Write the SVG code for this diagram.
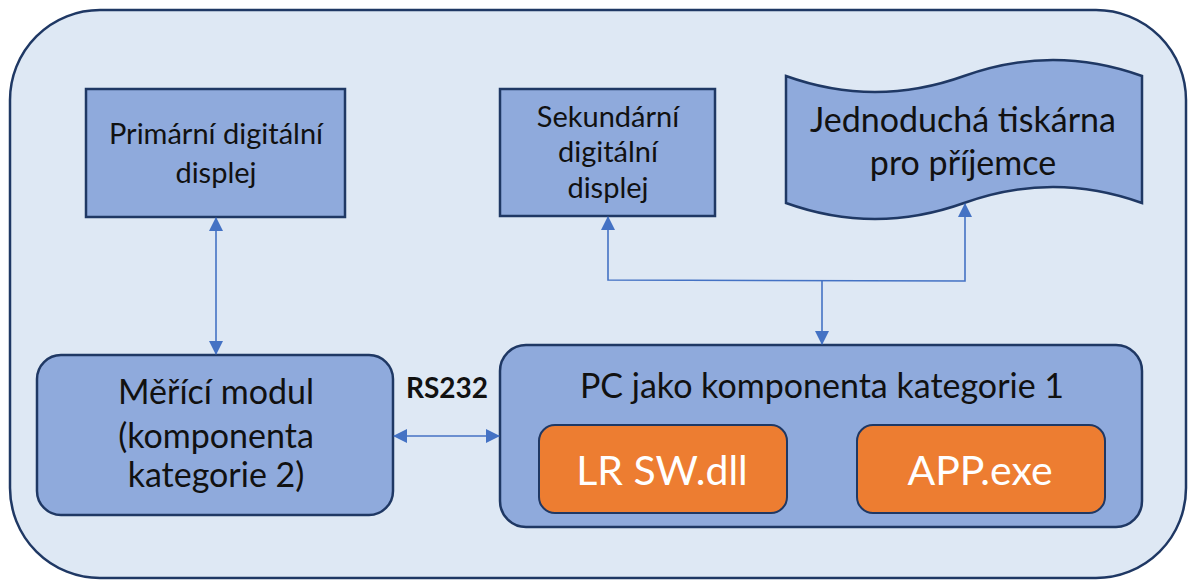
<svg xmlns="http://www.w3.org/2000/svg" width="1188" height="580" viewBox="0 0 1188 580">
<defs>
<style>
.node{fill:#8FAADC;stroke:#1F3864;stroke-width:2.5}
.sw{fill:#ED7D31;stroke:#1F3864;stroke-width:2}
.t{font-family:Lato,"Open Sans","Liberation Sans",sans-serif;fill:#111;text-anchor:middle}
.w{font-family:Lato,"Open Sans","Liberation Sans",sans-serif;fill:#fff;text-anchor:middle}
.c{fill:none;stroke:#4472C4;stroke-width:1.6}
</style>
<marker id="ah" viewBox="0 0 14 14" refX="13" refY="7" markerWidth="14" markerHeight="14" markerUnits="userSpaceOnUse" orient="auto-start-reverse">
<path d="M0,0 L14,7 L0,14 Z" fill="#4472C4"/>
</marker>
</defs>
<g id="container">
<rect x="10" y="10" width="1176" height="568" rx="90" ry="90" fill="#DEE8F4" stroke="#1F3864" stroke-width="2.5"/>
</g>
<g id="primary-display">
<rect class="node" x="86" y="89" width="259" height="128"/>
<text class="t" x="216" y="144" font-size="29">Primární digitální</text>
<text class="t" x="216" y="183" font-size="29">displej</text>
</g>
<g id="secondary-display">
<rect class="node" x="500" y="89" width="215" height="127"/>
<text class="t" x="608" y="127" font-size="29">Sekundární</text>
<text class="t" x="608" y="162" font-size="29">digitální</text>
<text class="t" x="608" y="198" font-size="29">displej</text>
</g>
<g id="printer">
<path class="node" d="M786,76 Q875,108 964,76 Q1053,44 1142,76 L1142,203 Q1053,171 964,203 Q875,235 786,203 Z"/>
<text class="t" x="963" y="132" font-size="34">Jednoduchá tiskárna</text>
<text class="t" x="963" y="175" font-size="34">pro příjemce</text>
</g>
<g id="measuring-module">
<rect class="node" x="37" y="355" width="356" height="160" rx="24" ry="24"/>
<text class="t" x="216" y="404" font-size="34">Měřící modul</text>
<text class="t" x="216" y="448" font-size="34">(komponenta</text>
<text class="t" x="216" y="487" font-size="34">kategorie 2)</text>
</g>
<g id="rs232-label">
<text class="t" x="447" y="398" font-size="28" font-weight="bold">RS232</text>
</g>
<g id="pc">
<rect class="node" x="500" y="345" width="642" height="182" rx="26" ry="26"/>
<text class="t" x="822" y="398" font-size="34">PC jako komponenta kategorie 1</text>
</g>
<g id="lr-sw-dll">
<rect class="sw" x="539" y="425" width="248" height="88" rx="16" ry="16"/>
<text class="w" x="662" y="485" font-size="41">LR SW.dll</text>
</g>
<g id="app-exe">
<rect class="sw" x="857" y="425" width="248" height="88" rx="16" ry="16"/>
<text class="w" x="980" y="485" font-size="41">APP.exe</text>
</g>
<g id="connectors">
<line class="c" x1="216" y1="218" x2="216" y2="354" marker-start="url(#ah)" marker-end="url(#ah)"/>
<line class="c" x1="394" y1="436" x2="499" y2="436" marker-start="url(#ah)" marker-end="url(#ah)"/>
<polyline class="c" points="608,217 608,280 965,281 965,204" marker-start="url(#ah)" marker-end="url(#ah)"/>
<line class="c" x1="822" y1="280" x2="822" y2="344" marker-end="url(#ah)"/>
</g>
</svg>
